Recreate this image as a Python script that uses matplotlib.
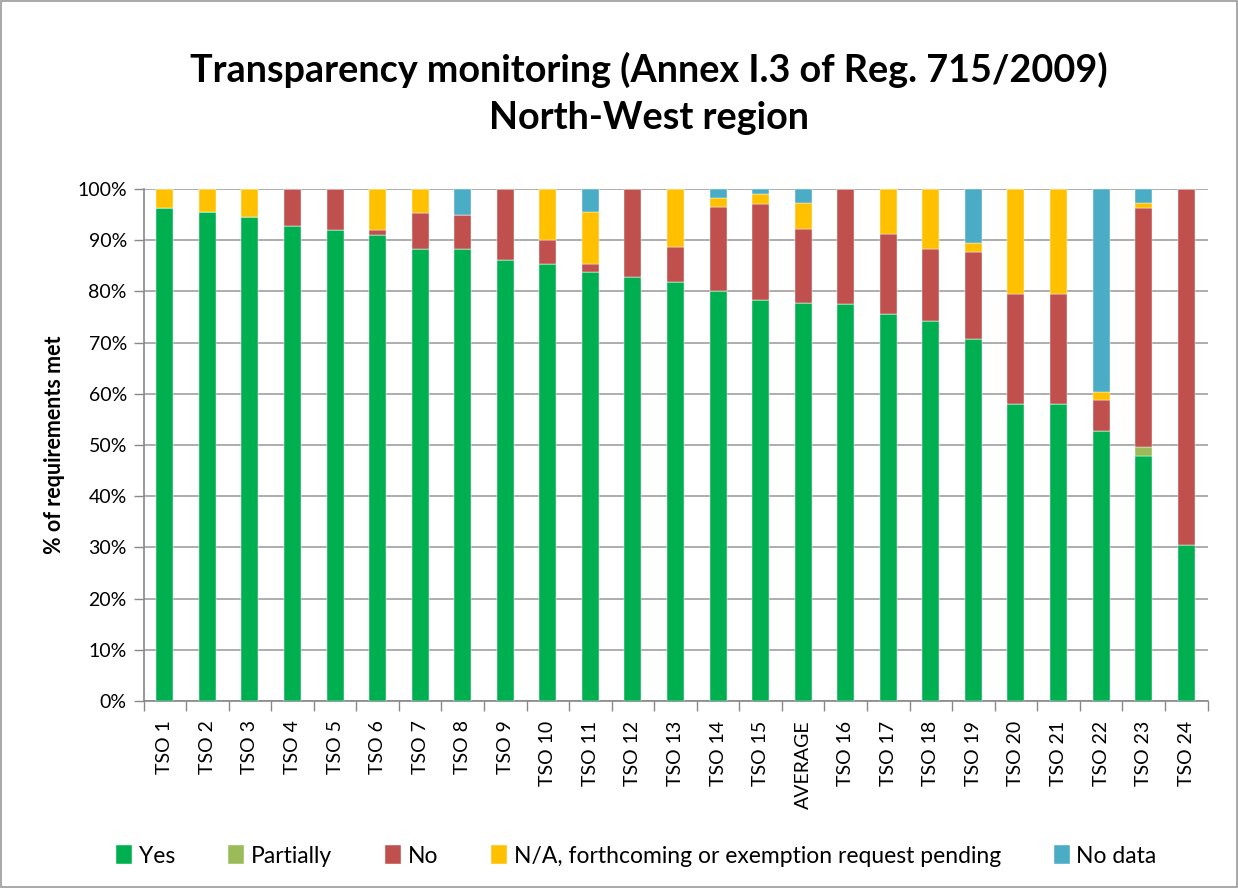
import matplotlib
matplotlib.use("Agg")
import matplotlib.pyplot as plt
from matplotlib.patches import Rectangle
from matplotlib.ticker import PercentFormatter, MultipleLocator, FixedLocator

plt.rcParams['font.family'] = ['Lato', 'DejaVu Sans']

categories = ["TSO 1", "TSO 2", "TSO 3", "TSO 4", "TSO 5", "TSO 6", "TSO 7", "TSO 8",
              "TSO 9", "TSO 10", "TSO 11", "TSO 12", "TSO 13", "TSO 14", "TSO 15",
              "AVERAGE", "TSO 16", "TSO 17", "TSO 18", "TSO 19", "TSO 20", "TSO 21",
              "TSO 22", "TSO 23", "TSO 24"]

yes =       [96.3, 95.5, 94.6, 92.8, 92.0, 91.1, 88.3, 88.2, 86.2, 85.4, 83.7, 82.8, 81.9,
             80.0, 78.3, 77.7, 77.5, 75.5, 74.2, 70.8, 58.1, 58.1, 52.7, 47.9, 30.4]
partially = [0, 0, 0, 0, 0, 0, 0, 0, 0, 0, 0, 0, 0,
             0, 0, 0, 0, 0, 0, 0, 0, 0, 0, 1.8, 0]
no =        [0, 0, 0, 7.2, 8.0, 0.8, 7.1, 6.8, 13.8, 4.6, 1.7, 17.2, 6.8,
             16.5, 18.8, 14.4, 22.5, 15.8, 14.1, 16.8, 21.4, 21.4, 6.0, 46.6, 69.6]
na =        [3.7, 4.5, 5.4, 0, 0, 8.1, 4.6, 0, 0, 10.0, 10.1, 0, 11.3,
             1.7, 1.9, 5.2, 0, 8.7, 11.7, 1.8, 20.5, 20.5, 1.7, 1.0, 0]
nodata =    [0, 0, 0, 0, 0, 0, 0, 5.0, 0, 0, 4.5, 0, 0,
             1.8, 1.0, 2.7, 0, 0, 0, 10.6, 0, 0, 39.6, 2.7, 0]

series = [("Yes", yes, "#00B050"),
          ("Partially", partially, "#9BBB59"),
          ("No", no, "#C0504D"),
          ("N/A, forthcoming or exemption request pending", na, "#FFC000"),
          ("No data", nodata, "#4BACC6")]

fig = plt.figure(figsize=(12.38, 8.88), dpi=100)
ax = fig.add_axes([143.5/1238, 1-701/888, 1064/1238, 512/888])

x = list(range(len(categories)))
bottom = [0.0]*len(categories)
for name, vals, col in series:
    ax.bar(x, vals, width=0.4, bottom=bottom, color=col, label=name,
           edgecolor='white', linewidth=0.3, zorder=3)
    bottom = [b + v for b, v in zip(bottom, vals)]

ax.set_ylim(0, 100)
ax.set_xlim(-0.5, len(categories)-0.5)
ax.yaxis.set_major_locator(MultipleLocator(10))
ax.yaxis.set_major_formatter(PercentFormatter(decimals=0))
ax.grid(axis='y', color='#A0A0A0', linewidth=1.2, zorder=0)
ax.set_axisbelow(True)

ax.set_xticks(x)
ax.set_xticklabels(categories, rotation=90, fontsize=14)
ax.tick_params(axis='x', length=0, pad=14)
ax.xaxis.set_minor_locator(FixedLocator([i - 0.5 for i in range(len(categories)+1)]))
ax.tick_params(axis='x', which='minor', length=7, color='#888888', width=1)
ax.tick_params(axis='y', labelsize=14, length=7, color='#888888', width=1, pad=5)

for s in ['top', 'right']:
    ax.spines[s].set_visible(False)
for s in ['left', 'bottom']:
    ax.spines[s].set_color('#888888')
    ax.spines[s].set_linewidth(1.2)

ax.set_ylabel("% of requirements met", fontsize=15.5, fontweight='bold', labelpad=9)

fig.text(649/1238, 1-70/888, "Transparency monitoring (Annex I.3 of Reg. 715/2009)",
         ha='center', va='center', fontsize=27.2, fontweight='bold')
fig.text(649/1238, 1-118/888, "North-West region",
         ha='center', va='center', fontsize=27.2, fontweight='bold')

fig.legend(loc='center', bbox_to_anchor=(0.514, 1-856/888), ncol=5, frameon=False,
           fontsize=16.5, handlelength=0.7, handleheight=0.9, handletextpad=0.3,
           columnspacing=2.3)

fig.patches.append(Rectangle((0.001, 0.001), 0.998, 0.998, transform=fig.transFigure,
                             fill=False, edgecolor='#999999', linewidth=1.2))

fig.savefig("out.png", dpi=100)
